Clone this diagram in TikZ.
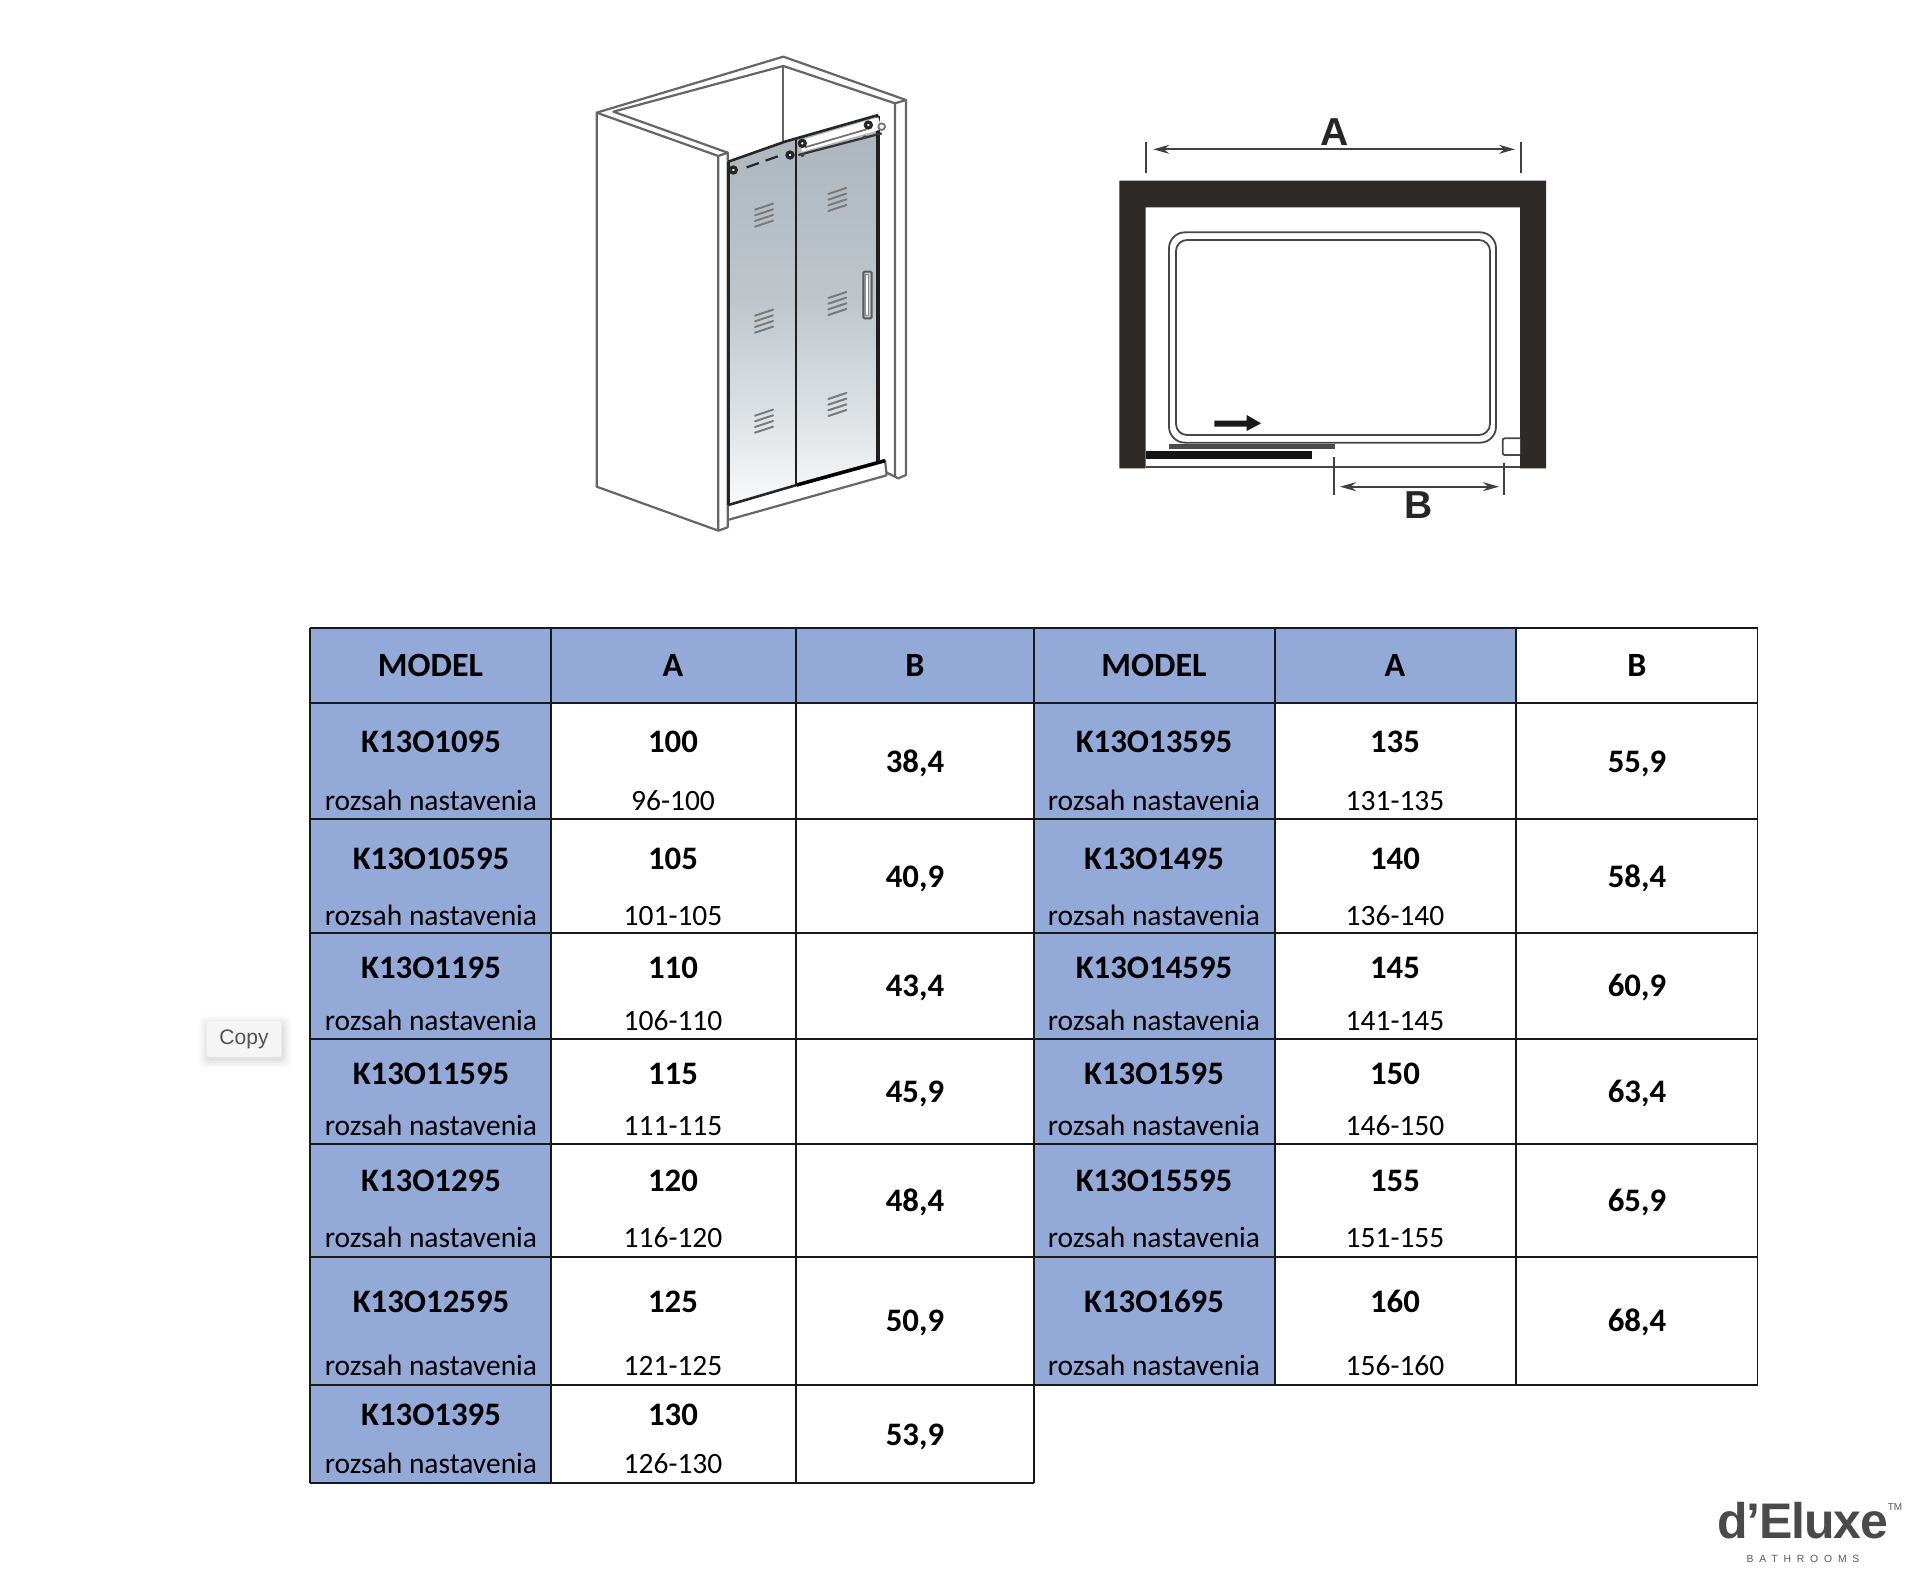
\documentclass[tikz,border=0pt]{standalone}
\usepackage{fontspec}
\usetikzlibrary{arrows.meta}
\setmainfont{Carlito}
\newfontfamily\arialfont{Liberation Sans}
\newfontfamily\logofont[LetterSpace=-2.4]{Liberation Sans}
\newfontfamily\spacedfont[LetterSpace=56]{Liberation Sans}
\definecolor{hdrblue}{HTML}{93A9D7}
\definecolor{walldark}{HTML}{2E2A27}
\definecolor{doorline}{HTML}{666666}
\definecolor{logogray}{HTML}{4A4A4A}
\definecolor{gla}{HTML}{ABB4BC}
\definecolor{glb}{HTML}{BFC7CD}
\definecolor{glc}{HTML}{DFE3E6}
\definecolor{gld}{HTML}{FAFBFB}
\pgfdeclareverticalshading{glassfade}{100bp}{color(0bp)=(gld); color(25bp)=(gld); color(36bp)=(glc); color(51bp)=(glb); color(75bp)=(gla); color(100bp)=(gla)}
\tikzset{
  headtxt/.style={anchor=base,font=\fontsize{17}{19}\selectfont\bfseries,inner sep=0pt},
  modeltxt/.style={anchor=base,font=\fontsize{16.4}{18}\selectfont\bfseries,inner sep=0pt},
  rangetxt/.style={anchor=base,font=\fontsize{14.75}{16}\selectfont,inner sep=0pt},
  gridline/.style={draw=black!90,line width=0.9pt},
  wallline/.style={draw=doorline,line width=1.1pt,line join=round},
  ventline/.style={draw=black!52,line width=1pt,line cap=round},
  railline/.style={draw=black!85,line width=1.3pt},
  planline/.style={draw=black!72,line width=0.9pt},
  dimline/.style={draw=black!75,line width=0.85pt,{Stealth[length=8pt,width=4.5pt]}-{Stealth[length=8pt,width=4.5pt]}},
  dimtick/.style={draw=black!75,line width=0.85pt},
  dimtxt/.style={font=\fontsize{19.5}{21}\arialfont\bfseries,text=black!85,inner sep=0pt},
}
\begin{document}
\begin{tikzpicture}[x=0.5pt,y=-0.5pt]
\useasboundingbox (0,0) rectangle (1919,1582);
\fill[white] (0,0) rectangle (1919,1582);

%%% ---------- door perspective (coordinates of a 3x crop) ----------
\begin{scope}[shift={(570,40)},x=0.16667pt,y=-0.16667pt]
  % glass
  \begin{scope}
    \clip (475,365) -- (645,305) -- (925,225) -- (925,1262) -- (680,1335) -- (475,1395) -- cycle;
    \shade[shading=glassfade] (460,225) rectangle (940,1400);
  \end{scope}
  % walls
  \draw[wallline] (80,218) -- (445,348) -- (445,1472) -- (80,1340) -- cycle;
  \draw[wallline] (445,348) -- (473,338) -- (473,1462) -- (445,1472);
  \draw[wallline] (80,218) -- (640,50) -- (1008,180) -- (1008,1305) -- (985,1315) -- (950,1298);
  \draw[wallline] (975,190) -- (640,78) -- (130,215) -- (473,338);
  \draw[wallline] (1008,180) -- (975,190) -- (975,1312);
  \draw[wallline] (640,78) -- (640,305);
  % sill
  \draw[wallline] (473,1440) -- (950,1306);
  \draw[wallline] (945,1260) -- (950,1306);
  \draw[railline] (475,1395) -- (680,1335);
  \draw[draw=black,line width=1.8pt] (680,1335) -- (945,1262);
  % glass edges
  \draw[draw=black!85,line width=1.2pt] (475,365) -- (475,1395);
  \draw[draw=black!88,line width=1.3pt] (678,300) -- (678,1335);
  \draw[draw=black!88,line width=1.9pt] (925,228) -- (925,1262);
  % rails
  \fill[white] (695,300) -- (925,232) -- (935,268) -- (695,335) -- cycle;
  \draw[railline] (475,365) -- (645,305) -- (925,225);
  \draw[draw=black!55,line width=0.9pt] (705,322) -- (890,268);
  \draw[draw=black!80,line width=1.1pt] (685,345) -- (935,280);
  \draw[draw=black!85,line width=1.1pt,dash pattern=on 6.5pt off 3.5pt] (530,382) -- (632,346);
  \foreach \cx/\cy in {490/390,660/345,697/310,895/255}
    \draw[draw=black!85,line width=1.6pt,fill=white] (\cx,\cy) circle (9);
  \draw[draw=black!55,line width=0.9pt,fill=white] (935,260) circle (10);
  \foreach \cx/\cy in {697/345,885/292}
    \fill[black!75] (\cx,\cy) circle (6);
  % vents
  \foreach \cx/\cy in {582/525,582/843,582/1143,802/478,802/790,802/1093}
    \foreach \k in {-25,-8,9,26}
      \draw[ventline] (\cx-27,\cy+\k+9) -- (\cx+27,\cy+\k-9);
  % handle
  \draw[draw=black!65,line width=1pt,fill=white!80!black,rounded corners=0.6pt] (880,695) rectangle (905,835);
  \draw[draw=black!45,line width=0.6pt,fill=white] (885,703) rectangle (896,826);
\end{scope}

%%% ---------- plan view (coordinates of a 3x crop) ----------
\begin{scope}[shift={(1100,100)},x=0.16667pt,y=-0.16667pt]
  \fill[walldark] (58,242) -- (1338,242) -- (1338,1105) -- (1260,1105) -- (1260,322) -- (137,322) -- (137,1105) -- (58,1105) -- cycle;
  \draw[planline] (137,1101) -- (1260,1101);
  \draw[planline,rounded corners=8pt] (207,397) rectangle (1188,1028);
  \draw[planline,rounded corners=5.5pt] (228,420) rectangle (1170,1005);
  \fill[black!92] (137,1052) rectangle (635,1077);
  \fill[black!70] (207,1033) rectangle (705,1047);
  \draw[planline,fill=white,rounded corners=1pt] (1260,1015) -- (1208,1015) -- (1208,1065) -- (1260,1065);
  \fill[black!90] (343,962) -- (440,962) -- (440,945) -- (483,970) -- (440,993) -- (440,980) -- (343,980) -- cycle;
  \coordinate (aL) at (160,148); \coordinate (aR) at (1245,148);
  \coordinate (bL) at (720,1160); \coordinate (bR) at (1197,1160);
  \draw[dimline] (aL) -- (aR);
  \draw[dimline] (bL) -- (bR);
  \coordinate (t1a) at (138,125); \coordinate (t1b) at (138,220);
  \coordinate (t2a) at (1262,125); \coordinate (t2b) at (1262,220);
  \coordinate (t3a) at (702,1072); \coordinate (t3b) at (702,1185);
  \coordinate (t4a) at (1212,1088); \coordinate (t4b) at (1212,1185);
  \draw[dimtick] (t1a) -- (t1b);
  \draw[dimtick] (t2a) -- (t2b);
  \draw[dimtick] (t3a) -- (t3b);
  \draw[dimtick] (t4a) -- (t4b);
  \node[dimtxt] (lblA) at (703,95) {A};
  \node[dimtxt] (lblB) at (955,1215) {B};
\end{scope}

%%% ---------- table ----------
\fill[hdrblue] (310,628) rectangle (551,1483);
\fill[hdrblue] (551,628) rectangle (1034,703);
\fill[hdrblue] (1034,628) rectangle (1275,1385);
\fill[hdrblue] (1275,628) rectangle (1516,703);
% grid
\foreach \yy in {628,703,819,933,1039,1144,1257,1385}
  \draw[gridline] (310,\yy) -- (1757.5,\yy);
\draw[gridline] (310,1483) -- (1034,1483);
\foreach \xx in {310,551,796,1034}
  \draw[gridline] (\xx,628) -- (\xx,1483);
\foreach \xx in {1275,1516,1757.5}
  \draw[gridline] (\xx,628) -- (\xx,1385);
% header
\foreach \id/\xx/\tt in {h1/430.5/MODEL,h2/673/A,h3/915/B,h4/1154/MODEL,h5/1395/A,h6/1637/B}
  \node[headtxt] (\id) at (\xx,677) {\tt};
% rows
\foreach \id/\xa/\xb/\xc/\mm/\aa/\rr/\bb/\ya/\yr/\yb in {
  a/431/673/915/K13O1095/100/96-100/38{,}4/753/811/773,
  b/431/673/915/K13O10595/105/101-105/40{,}9/870/926/888,
  c/431/673/915/K13O1195/110/106-110/43{,}4/979/1031/997,
  d/431/673/915/K13O11595/115/111-115/45{,}9/1085/1136/1103,
  e/431/673/915/K13O1295/120/116-120/48{,}4/1192/1247/1211,
  f/431/673/915/K13O12595/125/121-125/50{,}9/1312/1375/1332,
  g/431/673/915/K13O1395/130/126-130/53{,}9/1425/1473/1445,
  i/1154/1395/1637/K13O13595/135/131-135/55{,}9/753/811/773,
  j/1154/1395/1637/K13O1495/140/136-140/58{,}4/870/926/888,
  k/1154/1395/1637/K13O14595/145/141-145/60{,}9/979/1031/997,
  l/1154/1395/1637/K13O1595/150/146-150/63{,}4/1085/1136/1103,
  m/1154/1395/1637/K13O15595/155/151-155/65{,}9/1192/1247/1211,
  n/1154/1395/1637/K13O1695/160/156-160/68{,}4/1312/1375/1332}
{
  \node[modeltxt] (\id m) at (\xa,\ya) {\mm};
  \node[rangetxt] (\id s) at (\xa,\yr) {rozsah nastavenia};
  \node[modeltxt] (\id a) at (\xb,\ya) {\aa};
  \node[rangetxt] (\id r) at (\xb,\yr) {\rr};
  \node[modeltxt] (\id b) at (\xc,\yb) {\bb};
}

%%% ---------- Copy button ----------
\foreach \g/\op in {9/0.012,7/0.018,5/0.025,3/0.03,1/0.035}
  \fill[black,opacity=\op,rounded corners=3pt] (207-\g,1020-\g+4) rectangle (283+\g,1056+\g+4);
\node[draw=black!7,fill=black!4,rounded corners=1.5pt,minimum width=37.5pt,minimum height=18pt,inner sep=0pt,
      font=\fontsize{10.5}{12}\arialfont,text=black!68] (copybtn) at (244,1039) {Copy};

%%% ---------- logo ----------
\node[anchor=base west,inner sep=0pt,font=\fontsize{25}{27}\logofont\bfseries,text=logogray] (logo) at (1717,1538) {d’Eluxe};
\node[anchor=center,inner sep=0pt,font=\fontsize{5}{6}\arialfont,text=black!65] (tm) at (1895,1507) {TM};
\node[anchor=center,inner sep=0pt,font=\fontsize{5.2}{6}\spacedfont,text=black!65] (bath) at (1803,1559) {BATHROOMS};
\end{tikzpicture}
\end{document}
